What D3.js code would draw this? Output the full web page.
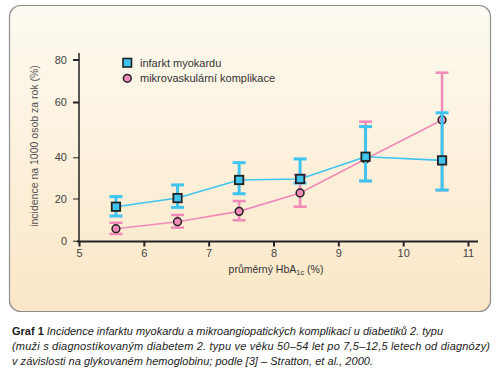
<!DOCTYPE html>
<html>
<head>
<meta charset="utf-8">
<script src="https://cdn.jsdelivr.net/npm/d3@7"></script>
<style>
  body { margin: 0; background: #fff; }
  svg { display: block; font-family: "Liberation Sans", Arial, sans-serif; }
</style>
</head>
<body>
<svg id="chart"></svg>
<script>
const W = 499;
const H = 384;

// HbA1c (%) categories
const hba1c = [5.57, 6.52, 7.47, 8.41, 9.42, 10.6];

// infarkt myokardu
const miValue = [16.1, 20.2, 29.0, 29.5, 40.2, 38.5];
const miLow   = [11.7, 15.8, 22.3, 27.5, 28.5, 24.1];
const miHigh  = [20.9, 26.6, 37.4, 39.2, 51.1, 56.1];

// mikrovaskulární komplikace
const mvValue = [5.7, 9.0, 13.9, 22.7, 39.2, 53.5];
const mvLow   = [3.2, 6.2, 9.7, 16.1, 28.5, 24.1];
const mvHigh  = [8.5, 12.2, 18.8, 31.4, 52.9, 73.8];

const xTicks = [5, 6, 7, 8, 9, 10, 11];
const yTicks = [0, 20, 40, 60, 80];

const legendLabels = ["infarkt myokardu", "mikrovaskulární komplikace"];
const captionBold = "Graf 1";
const captionLines = [
  "Incidence infarktu myokardu a mikroangiopatických komplikací u diabetiků 2. typu",
  "(muži s diagnostikovaným diabetem 2. typu ve věku 50–54 let po 7,5–12,5 letech od diagnózy)",
  "v závislosti na glykovaném hemoglobinu; podle [3] – Stratton, et al., 2000."
];

const BLUE = "#3fc4ef";
const PINK = "#f08ab8";
const INK = "#222";

const svg = d3.select("#chart").attr("width", W).attr("height", H);

// panel background
const grad = svg.append("defs").append("linearGradient")
  .attr("id", "bg").attr("x1", 0).attr("y1", 0).attr("x2", 0).attr("y2", 1);
grad.append("stop").attr("offset", "0%").attr("stop-color", "#fdfaf1");
grad.append("stop").attr("offset", "100%").attr("stop-color", "#fbe7c7");

svg.append("rect")
  .attr("x", 9.5).attr("y", 5.5).attr("width", 481).attr("height", 306)
  .attr("rx", 11).attr("ry", 11)
  .attr("fill", "url(#bg)")
  .attr("stroke", "#8f8f8f").attr("stroke-width", 1.2);

const x = d3.scaleLinear().domain([5, 11]).range([79, 468]);
// the printed y axis is not evenly spaced, so map each tick to where it sits
const y = d3.scaleLinear().domain(yTicks).range([240.7, 198.5, 157.3, 102, 59.5]);

// y ticks
const yAxis = svg.append("g")
  .attr("transform", "translate(79,0)")
  .call(d3.axisLeft(y).tickValues(yTicks).tickSize(6).tickSizeOuter(0).tickPadding(6));
yAxis.select(".domain").remove();
yAxis.selectAll(".tick line")
  .attr("stroke", INK)
  .attr("stroke-width", function(d) { return d >= 60 ? 2 : 1; });
yAxis.selectAll(".tick text")
  .attr("fill", "#444").style("font-size", "11px")
  .attr("font-family", "Liberation Sans, Arial, sans-serif");

// x ticks
const xAxis = svg.append("g")
  .attr("transform", "translate(0,241.5)")
  .call(d3.axisBottom(x).tickValues(xTicks).tickFormat(d3.format("d"))
    .tickSize(5).tickSizeOuter(0).tickPadding(3));
xAxis.select(".domain").remove();
xAxis.selectAll(".tick line").attr("stroke", INK).attr("stroke-width", 2);
xAxis.selectAll(".tick text")
  .attr("fill", "#444").style("font-size", "11px")
  .attr("font-family", "Liberation Sans, Arial, sans-serif");

// axis lines
svg.append("line")
  .attr("x1", 79).attr("x2", 79).attr("y1", 53).attr("y2", 242)
  .attr("stroke", INK).attr("stroke-width", 1.5);
svg.append("line")
  .attr("x1", 77).attr("x2", 478).attr("y1", 241.5).attr("y2", 241.5)
  .attr("stroke", INK).attr("stroke-width", 2.2);

// axis titles
const xTitle = svg.append("text")
  .attr("x", 276).attr("y", 273)
  .attr("text-anchor", "middle")
  .attr("fill", "#333").style("font-size", "10.5px");
xTitle.append("tspan").text("průměrný HbA");
xTitle.append("tspan").attr("dy", 2).style("font-size", "7.5px").text("1c");
xTitle.append("tspan").attr("dy", -2).text(" (%)");

svg.append("text")
  .attr("transform", "translate(38,146) rotate(-90)")
  .attr("text-anchor", "middle")
  .attr("fill", "#555").style("font-size", "10.5px")
  .text("incidence na 1000 osob za rok (%)");

const line = d3.line()
  .x(function(d) { return x(d[0]); })
  .y(function(d) { return y(d[1]); });

function drawBars(values, low, high, color, width) {
  const g = svg.append("g").attr("stroke", color).attr("stroke-width", width);
  const rows = hba1c.map(function(v, i) { return [v, low[i], high[i]]; });
  g.selectAll(".v").data(rows).enter().append("line")
    .attr("x1", function(d) { return x(d[0]); })
    .attr("x2", function(d) { return x(d[0]); })
    .attr("y1", function(d) { return y(d[1]); })
    .attr("y2", function(d) { return y(d[2]); });
  g.selectAll(".lo").data(rows).enter().append("line")
    .attr("x1", function(d) { return x(d[0]) - 6.5; })
    .attr("x2", function(d) { return x(d[0]) + 6.5; })
    .attr("y1", function(d) { return y(d[1]); })
    .attr("y2", function(d) { return y(d[1]); });
  g.selectAll(".hi").data(rows).enter().append("line")
    .attr("x1", function(d) { return x(d[0]) - 6.5; })
    .attr("x2", function(d) { return x(d[0]) + 6.5; })
    .attr("y1", function(d) { return y(d[2]); })
    .attr("y2", function(d) { return y(d[2]); });
}

const miPts = hba1c.map(function(v, i) { return [v, miValue[i]]; });
const mvPts = hba1c.map(function(v, i) { return [v, mvValue[i]]; });

// pink series first, blue on top
drawBars(mvValue, mvLow, mvHigh, PINK, 2.5);
svg.append("path").datum(mvPts).attr("d", line)
  .attr("fill", "none").attr("stroke", PINK).attr("stroke-width", 1.6);
svg.selectAll(".mv").data(mvPts).enter().append("circle")
  .attr("cx", function(d) { return x(d[0]); })
  .attr("cy", function(d) { return y(d[1]); })
  .attr("r", 3.9)
  .attr("fill", PINK).attr("stroke", INK).attr("stroke-width", 1.5);

drawBars(miValue, miLow, miHigh, BLUE, 3);
svg.append("path").datum(miPts).attr("d", line)
  .attr("fill", "none").attr("stroke", BLUE).attr("stroke-width", 1.6);
svg.selectAll(".mi").data(miPts).enter().append("rect")
  .attr("x", function(d) { return x(d[0]) - 4.2; })
  .attr("y", function(d) { return y(d[1]) - 4.2; })
  .attr("width", 8.4).attr("height", 8.4)
  .attr("fill", BLUE).attr("stroke", INK).attr("stroke-width", 1.8);

// legend
const legend = svg.append("g");
legend.append("rect")
  .attr("x", 123).attr("y", 58.5).attr("width", 8.5).attr("height", 8.5)
  .attr("fill", BLUE).attr("stroke", INK).attr("stroke-width", 1.6);
legend.append("circle")
  .attr("cx", 127.3).attr("cy", 78.3).attr("r", 3.9)
  .attr("fill", PINK).attr("stroke", INK).attr("stroke-width", 1.5);
legend.selectAll("text").data(legendLabels).enter().append("text")
  .attr("x", 140)
  .attr("y", function(d, i) { return 66.5 + i * 15.5; })
  .attr("fill", "#333").style("font-size", "11px")
  .text(function(d) { return d; });

// caption
const cap = svg.append("g").attr("fill", INK).style("font-size", "11px");
const first = cap.append("text").attr("x", 12).attr("y", 335)
  .attr("textLength", 431).attr("lengthAdjust", "spacing");
first.append("tspan").attr("font-weight", "bold").text(captionBold);
first.append("tspan").attr("font-style", "italic").text("  " + captionLines[0]);
cap.append("text").attr("x", 12).attr("y", 350)
  .attr("font-style", "italic").attr("textLength", 478).attr("lengthAdjust", "spacing")
  .text(captionLines[1]);
cap.append("text").attr("x", 12).attr("y", 364.5)
  .attr("font-style", "italic").attr("textLength", 361).attr("lengthAdjust", "spacing")
  .text(captionLines[2]);
</script>
</body>
</html>
